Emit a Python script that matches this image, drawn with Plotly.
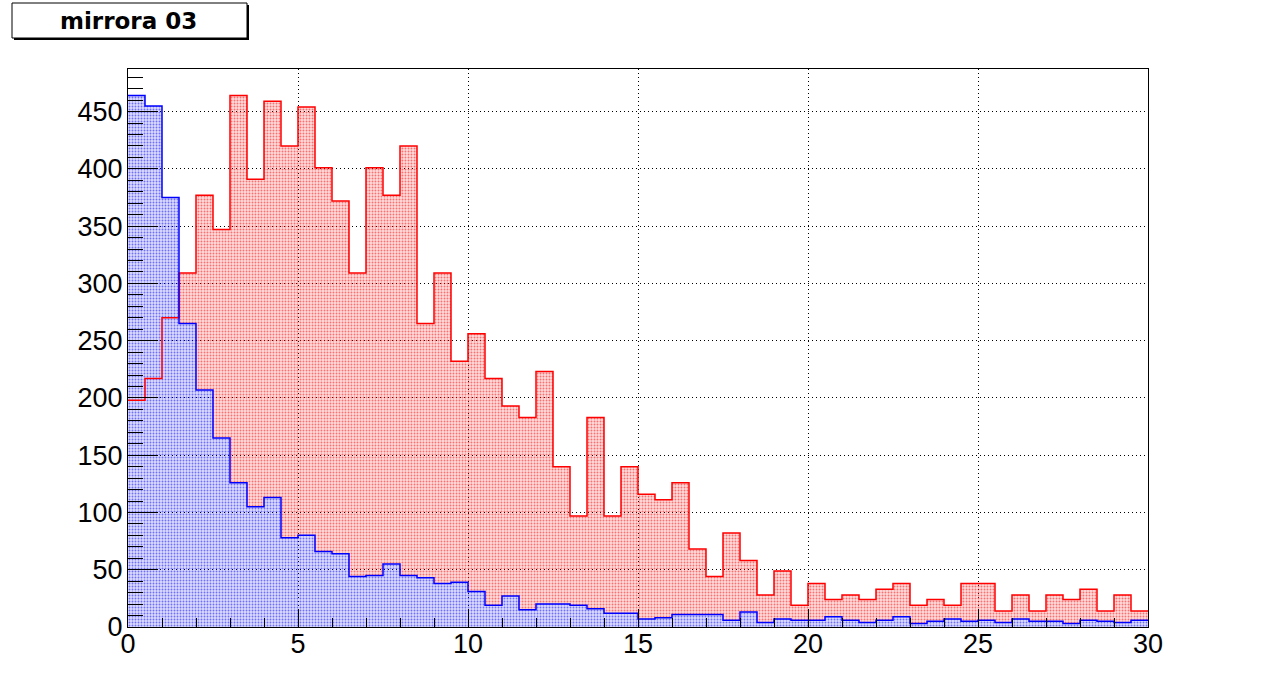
import numpy as np
import plotly.graph_objects as go

# histogram binning: 60 bins of width 0.5 between 0 and 30
bin_edges = np.linspace(0.0, 30.0, 61)

red_counts = [198, 217, 270, 309, 377, 347, 464, 391, 459, 420,
              454, 401, 372, 309, 401, 377, 420, 265, 309, 232,
              256, 217, 193, 183, 223, 140, 97, 183, 97, 140,
              116, 111, 126, 68, 44, 82, 58, 28, 49, 19,
              38, 24, 28, 24, 33, 38, 19, 24, 19, 38,
              38, 14, 28, 14, 28, 24, 33, 14, 28, 14]

blue_counts = [464, 455, 375, 265, 207, 165, 126, 105, 113, 78,
               80, 66, 64, 44, 45, 55, 45, 43, 38, 39,
               31, 19, 27, 15, 20, 20, 19, 16, 12, 12,
               7, 8, 11, 11, 11, 6, 13, 4, 7, 6,
               6, 9, 6, 4, 6, 9, 3, 5, 7, 5,
               6, 4, 7, 5, 5, 3, 6, 5, 4, 6]

title_text = "mirrora 03"

W, H = 1276, 697
ML, MT = 128, 69
PW, PH = 1020, 558
MR, MB = W - ML - PW, H - MT - PH


def steps(counts):
    # 'hv' step line needs one value per edge
    return list(counts) + [counts[-1]]


red = np.array(red_counts, dtype=float)
blue = np.array(blue_counts, dtype=float)
red_top = np.maximum(red, blue)

fig = go.Figure()

# invisible base for the red fill (red area only above the blue one)
fig.add_trace(go.Scatter(x=bin_edges, y=steps(blue), mode="lines",
                         line=dict(width=0, shape="hv"),
                         hoverinfo="skip", showlegend=False))
fig.add_trace(go.Scatter(x=bin_edges, y=steps(red_top), mode="lines",
                         line=dict(width=0, shape="hv"),
                         fill="tonexty", fillcolor="rgba(0,0,0,0)",
                         fillpattern=dict(shape=".", fgcolor="#ff0000",
                                          bgcolor="rgba(255,0,0,0.14)",
                                          size=3, solidity=0.3),
                         hoverinfo="skip", showlegend=False))
fig.add_trace(go.Scatter(x=bin_edges, y=steps(blue), mode="lines",
                         line=dict(width=0, shape="hv"),
                         fill="tozeroy", fillcolor="rgba(0,0,0,0)",
                         fillpattern=dict(shape=".", fgcolor="#0000ff",
                                          bgcolor="rgba(0,0,255,0.14)",
                                          size=3, solidity=0.3),
                         hoverinfo="skip", showlegend=False))

# outlines
fig.add_trace(go.Scatter(x=bin_edges, y=steps(red), mode="lines",
                         line=dict(color="#ff0000", width=1.5, shape="hv"),
                         name="red", showlegend=False))
fig.add_trace(go.Scatter(x=bin_edges, y=steps(blue), mode="lines",
                         line=dict(color="#0000ff", width=1.5, shape="hv"),
                         name="blue", showlegend=False))

ymax = 1.05 * max(red.max(), blue.max())

axis_font = dict(family="Liberation Sans, Arial, sans-serif", size=27, color="black")
fig.update_xaxes(range=[0, 30], dtick=5, tick0=0,
                 ticks="inside", ticklen=18, tickwidth=1, tickcolor="black",
                 minor=dict(dtick=1, ticks="inside", ticklen=9, tickcolor="black",
                            showgrid=False),
                 showgrid=True, gridcolor="black", griddash="1px,3px", gridwidth=1,
                 showline=True, linecolor="black", linewidth=1, mirror=True,
                 zeroline=False, tickfont=axis_font, ticklabelstandoff=-7)
fig.update_yaxes(range=[0, ymax], dtick=50, tick0=0,
                 ticks="inside", ticklen=30, tickwidth=1, tickcolor="black",
                 minor=dict(dtick=10, ticks="inside", ticklen=15, tickcolor="black",
                            showgrid=False),
                 showgrid=True, gridcolor="black", griddash="1px,3px", gridwidth=1,
                 showline=True, linecolor="black", linewidth=1, mirror=True,
                 zeroline=False, tickfont=axis_font, ticklabelstandoff=-1)


# title box with shadow, as in the ROOT canvas (pixel positions)
def px_x(p):
    return (p - ML) / PW


def px_y(p):
    return (MT + PH - p) / PH


fig.add_shape(type="rect", xref="paper", yref="paper",
              x0=px_x(14), x1=px_x(249), y0=px_y(40), y1=px_y(5),
              fillcolor="black", line=dict(width=0), layer="above")
fig.add_shape(type="rect", xref="paper", yref="paper",
              x0=px_x(12), x1=px_x(247), y0=px_y(38), y1=px_y(3),
              fillcolor="white", line=dict(color="black", width=1), layer="above")
fig.add_annotation(text="<b>" + title_text + "</b>", xref="paper", yref="paper",
                   x=px_x(128), y=px_y(21), xanchor="center", yanchor="middle",
                   showarrow=False,
                   font=dict(family="DejaVu Sans, sans-serif", size=23, color="black"))

fig.update_layout(width=W, height=H,
                  margin=dict(l=ML, r=MR, t=MT, b=MB, pad=0),
                  paper_bgcolor="white", plot_bgcolor="white",
                  showlegend=False)

# drop the page's default body margin so the canvas sits at the window corner
fig.write_html("out.html", config={"displayModeBar": False},
               post_script="document.body.style.margin='0px';")
